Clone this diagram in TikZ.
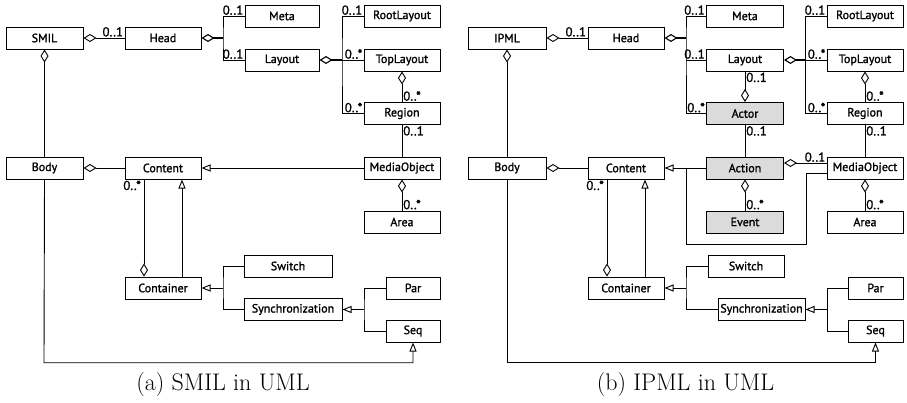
\documentclass[tikz,border=0pt]{standalone}
\usepackage{fontspec}
\newfontfamily\boxfont[FakeBold=1.3]{PT Sans}
\usetikzlibrary{arrows.meta}
\begin{document}
\begin{tikzpicture}[x=1pt,y=-1pt,
  cls/.style={draw, line width=1pt, minimum height=22pt, inner sep=1pt, font=\boxfont\fontsize{12}{12}\selectfont, fill=white},
  act/.style={cls, fill=gray!28},
  ln/.style={line width=0.9pt},
  agg/.style={ln, {Diamond[open,length=13pt,width=8pt]}-},
  gen/.style={ln, -{Triangle[open,length=9pt,width=7pt]}},
  mult/.style={font=\boxfont\fontsize{13}{13}\selectfont, inner sep=1pt},
  captxt/.style={font=\fontsize{24}{28}\selectfont, inner sep=0pt}
]
\useasboundingbox (0,0) rectangle (907,402);
% ---------------- (a) ----------------
\node[cls, minimum width=77pt] (aSMIL) at (44.5,38) {SMIL};
\node[cls, minimum width=76pt] (aHead) at (163,38) {Head};
\node[cls, minimum width=74pt] (aMeta) at (282,16) {Meta};
\node[cls, minimum width=74pt] (aLayout) at (282,60) {Layout};
\node[cls, minimum width=76pt] (aRoot) at (402,16) {RootLayout};
\node[cls, minimum width=76pt] (aTop) at (402,60) {TopLayout};
\node[cls, minimum width=76pt] (aRegion) at (402,113.5) {Region};
\node[cls, minimum width=77pt] (aBody) at (44.5,168) {Body};
\node[cls, minimum width=76pt] (aContent) at (163,168) {Content};
\node[cls, minimum width=76pt] (aMedia) at (402,168) {MediaObject};
\node[cls, minimum width=76pt] (aArea) at (402,222) {Area};
\node[cls, minimum width=76pt] (aCont) at (163,288) {Container};
\node[cls, minimum width=88pt] (aSwitch) at (288,266) {Switch};
\node[cls, minimum width=98pt] (aSync) at (293,309.5) {Synchronization};
\node[cls, minimum width=54pt] (aPar) at (413,288) {Par};
\node[cls, minimum width=54pt] (aSeq) at (413,331) {Seq};
\node[captxt] (capa) at (223,385) {(a) SMIL in UML};

\draw[agg] (aSMIL.east) -- (aHead.west) node[mult, pos=1, anchor=south east] {0..1};
\coordinate (ahj) at (223,38);
\draw[agg, line width=1.1pt] (aHead.east) -- (ahj);
\draw[ln] (aMeta.west) -| (ahj) |- (aLayout.west);
\node[mult, anchor=south east] at (aMeta.west) {0..1};
\node[mult, anchor=south east] at (aLayout.west) {0..1};
\coordinate (alj) at (342,60);
\draw[agg, line width=1.1pt] (aLayout.east) -- (alj);
\draw[ln] (aRoot.west) -| (alj) |- (aRegion.west);
\draw[ln] (alj) -- (aTop.west);
\node[mult, anchor=south east] at (aRoot.west) {0..1};
\node[mult, anchor=south east] at (aTop.west) {0..*};
\node[mult, anchor=south east] at (aRegion.west) {0..*};
\draw[agg] (aTop.south) -- (aRegion.north);
\node[mult, anchor=south west] at (aRegion.north) {0..*};
\draw[ln] (aRegion.south) -- (aMedia.north);
\node[mult, anchor=north west] at (aRegion.south) {0..1};
\draw[agg] (aMedia.south) -- (aArea.north);
\node[mult, anchor=south west] at (aArea.north) {0..*};
\draw[gen] (aMedia.west) -- (aContent.east);
\draw[agg] (aBody.east) -- (aContent.west);
\draw[agg] (aSMIL.south) -- (aBody.north);
\coordinate (abl) at (44,362.7);
\draw[gen] (aBody.south) -- (abl) -| (aSeq.south);
\draw[agg] ([xshift=-19pt]aCont.north) -- ([xshift=-19pt]aContent.south);
\node[mult, anchor=north east] at ([xshift=-21pt]aContent.south) {0..*};
\draw[gen] ([xshift=19pt]aCont.north) -- ([xshift=19pt]aContent.south);
\coordinate (acj) at (223,288);
\draw[gen] (acj) -- (aCont.east);
\draw[ln] (aSwitch.west) -| (acj) |- (aSync.west);
\coordinate (asj) at (364,309.5);
\draw[gen] (asj) -- (aSync.east);
\draw[ln] (aPar.west) -| (asj) |- (aSeq.west);

% ---------------- (b) ----------------
\node[cls, minimum width=78pt] (bIPML) at (507,38) {IPML};
\node[cls, minimum width=76pt] (bHead) at (626,38) {Head};
\node[cls, minimum width=77pt] (bMeta) at (745,16) {Meta};
\node[cls, minimum width=77pt] (bLayout) at (745,60) {Layout};
\node[act, minimum width=77pt] (bActor) at (745,113.5) {Actor};
\node[cls, minimum width=76pt] (bRoot) at (865,16) {RootLayout};
\node[cls, minimum width=76pt] (bTop) at (865,60) {TopLayout};
\node[cls, minimum width=76pt] (bRegion) at (865,113.5) {Region};
\node[cls, minimum width=78pt] (bBody) at (507,168) {Body};
\node[cls, minimum width=76pt] (bContent) at (626,168) {Content};
\node[act, minimum width=77pt] (bAction) at (745,168) {Action};
\node[cls, minimum width=76pt] (bMedia) at (865,168) {MediaObject};
\node[act, minimum width=77pt] (bEvent) at (745,222) {Event};
\node[cls, minimum width=76pt] (bArea) at (865,222) {Area};
\node[cls, minimum width=76pt] (bCont) at (626,288) {Container};
\node[cls, minimum width=76pt] (bSwitch) at (746,266) {Switch};
\node[cls, minimum width=87pt] (bSync) at (761.5,309.5) {Synchronization};
\node[cls, minimum width=55pt] (bPar) at (875.5,288) {Par};
\node[cls, minimum width=55pt] (bSeq) at (875.5,331) {Seq};
\node[captxt] (capb) at (685.5,385) {(b) IPML in UML};

\draw[agg] (bIPML.east) -- (bHead.west) node[mult, pos=1, anchor=south east] {0..1};
\coordinate (bhj) at (686,38);
\draw[agg, line width=1.1pt] (bHead.east) -- (bhj);
\draw[ln] (bMeta.west) -| (bhj) |- (bActor.west);
\draw[ln] (bLayout.west) -- (bLayout.west -| bhj);
\node[mult, anchor=south east] at (bMeta.west) {0..1};
\node[mult, anchor=south east] at (bLayout.west) {0..1};
\node[mult, anchor=south east] at (bActor.west) {0..*};
\draw[agg] (bActor.north) -- (bLayout.south);
\node[mult, anchor=north west] at (bLayout.south) {0..1};
\draw[ln] (bActor.south) -- (bAction.north);
\node[mult, anchor=north west] at (bActor.south) {0..1};
\draw[agg] (bAction.south) -- (bEvent.north);
\node[mult, anchor=south west] at (bEvent.north) {0..*};
\coordinate (blj) at (805,60);
\draw[agg, line width=1.1pt] (bLayout.east) -- (blj);
\draw[ln] (bRoot.west) -| (blj) |- (bRegion.west);
\draw[ln] (blj) -- (bTop.west);
\node[mult, anchor=south east] at (bRoot.west) {0..1};
\node[mult, anchor=south east] at (bTop.west) {0..*};
\node[mult, anchor=south east] at (bRegion.west) {0..*};
\draw[agg] (bTop.south) -- (bRegion.north);
\node[mult, anchor=south west] at (bRegion.north) {0..*};
\draw[ln] (bRegion.south) -- (bMedia.north);
\node[mult, anchor=north west] at (bRegion.south) {0..1};
\draw[agg] (bMedia.south) -- (bArea.north);
\node[mult, anchor=south west] at (bArea.north) {0..*};
\draw[agg] ([yshift=5pt]bAction.east) -- ([yshift=5pt]bMedia.west);
\node[mult, anchor=south east] at ([yshift=5pt]bMedia.west) {0..1};
\draw[gen] (bAction.west) -- (bContent.east);
\coordinate (bj) at (686,168);
\coordinate (bm2) at (806,244);
\draw[ln] ([yshift=-5pt]bMedia.west) -| (bm2) -| (bj);
\draw[agg] (bBody.east) -- (bContent.west);
\draw[agg] (bIPML.south) -- (bBody.north);
\coordinate (bbl) at (507,362.7);
\draw[gen] (bBody.south) -- (bbl) -| (bSeq.south);
\draw[agg] ([xshift=-19pt]bCont.north) -- ([xshift=-19pt]bContent.south);
\node[mult, anchor=north east] at ([xshift=-21pt]bContent.south) {0..*};
\draw[gen] ([xshift=19pt]bCont.north) -- ([xshift=19pt]bContent.south);
\coordinate (bcj) at (686,288);
\draw[gen] (bcj) -- (bCont.east);
\draw[ln] (bSwitch.west) -| (bcj) |- (bSync.west);
\coordinate (bsj) at (827,309.5);
\draw[gen] (bsj) -- (bSync.east);
\draw[ln] (bPar.west) -| (bsj) |- (bSeq.west);
\end{tikzpicture}
\end{document}
